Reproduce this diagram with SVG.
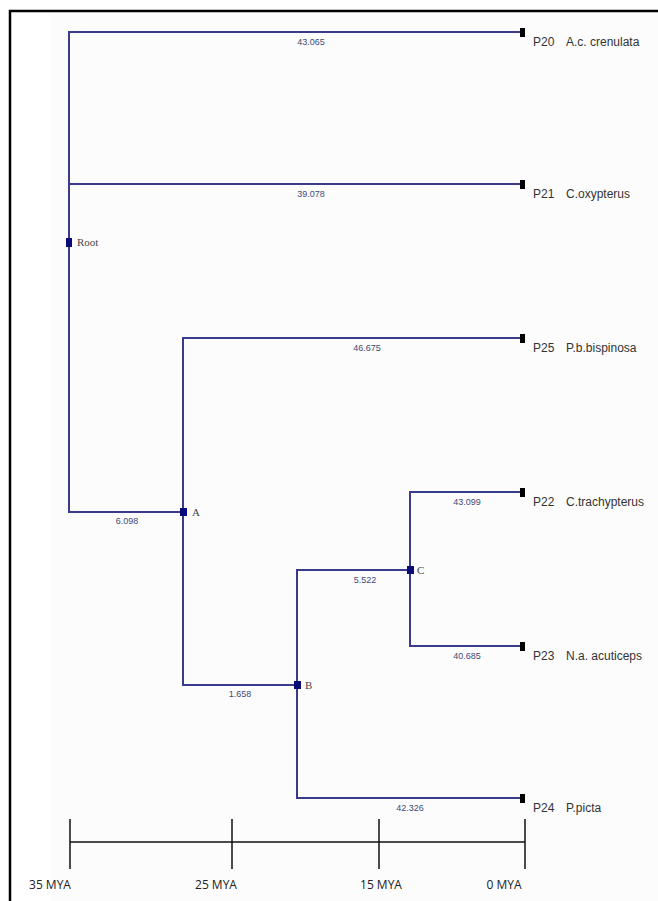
<svg xmlns="http://www.w3.org/2000/svg" width="658" height="901" viewBox="0 0 658 901">
<style>
.br{stroke:#3b3b8c;stroke-width:2;fill:none}
.leaf{fill:#000}
.inode{fill:#0a0a78}
.bl{font-family:"Liberation Sans",Arial,sans-serif;font-size:9px;fill:#3d4a78;text-anchor:middle}
.tl{font-family:"Liberation Sans",Arial,sans-serif;font-size:12px;fill:#333}
.nl{font-family:"Liberation Serif","Times New Roman",serif;font-size:11px;fill:#444}
.ax{stroke:#111;stroke-width:1.5;fill:none}
.al{font-family:"Open Sans","Liberation Sans",sans-serif;font-size:12px;fill:#222;text-anchor:middle}
</style>
<rect x="0" y="0" width="658" height="901" fill="#fff"/>
<rect x="50" y="14" width="608" height="887" fill="#fcfcfd"/>
<path d="M10 901 V11 H658" stroke="#000" stroke-width="2.5" fill="none"/>
<g id="connectors">
<path class="br" d="M522 32 H69 V512 H183"/>
<path class="br" d="M69 184 H522"/>
<path class="br" d="M522 338 H183 V685 H297"/>
<path class="br" d="M410 570 H297 V798 H522"/>
<path class="br" d="M522 492 H410 V646 H522"/>
<text class="bl" x="311" y="45">43.065</text>
<text class="bl" x="311" y="197">39.078</text>
<text class="bl" x="367" y="351">46.675</text>
<text class="bl" x="127" y="524">6.098</text>
<text class="bl" x="467" y="505">43.099</text>
<text class="bl" x="467" y="659">40.685</text>
<text class="bl" x="365" y="583">5.522</text>
<text class="bl" x="240" y="697">1.658</text>
<text class="bl" x="410" y="811">42.326</text>
</g>
<g id="P20"><rect class="leaf" x="520" y="28" width="5" height="9"/><text class="tl" x="533" y="46">P20</text><text class="tl" x="566" y="46">A.c. crenulata</text></g>
<g id="P21"><rect class="leaf" x="520" y="180" width="5" height="9"/><text class="tl" x="533" y="198">P21</text><text class="tl" x="566" y="198">C.oxypterus</text></g>
<g id="P25"><rect class="leaf" x="520" y="334" width="5" height="9"/><text class="tl" x="533" y="352">P25</text><text class="tl" x="566" y="352">P.b.bispinosa</text></g>
<g id="P22"><rect class="leaf" x="520" y="488" width="5" height="9"/><text class="tl" x="533" y="506">P22</text><text class="tl" x="566" y="506">C.trachypterus</text></g>
<g id="P23"><rect class="leaf" x="520" y="642" width="5" height="9"/><text class="tl" x="533" y="660">P23</text><text class="tl" x="566" y="660">N.a. acuticeps</text></g>
<g id="P24"><rect class="leaf" x="520" y="794" width="5" height="9"/><text class="tl" x="533" y="812">P24</text><text class="tl" x="566" y="812">P.picta</text></g>
<g id="Root"><rect class="inode" x="66" y="238" width="6" height="9"/><text class="nl" x="77" y="246">Root</text></g>
<g id="A"><rect class="inode" x="180" y="508" width="7" height="8"/><text class="nl" x="192" y="516">A</text></g>
<g id="B"><rect class="inode" x="294" y="681" width="7" height="8"/><text class="nl" x="305" y="689">B</text></g>
<g id="C"><rect class="inode" x="407" y="566" width="7" height="8"/><text class="nl" x="417" y="574">C</text></g>
<g id="axis">
<path class="ax" d="M70 842 H525 M70 819 V869 M232 819 V869 M379 819 V869 M525 819 V869"/>
<text class="al" x="50" y="889">35 MYA</text>
<text class="al" x="216" y="889">25 MYA</text>
<text class="al" x="381" y="889">15 MYA</text>
<text class="al" x="504" y="889">0 MYA</text>
</g>
</svg>
